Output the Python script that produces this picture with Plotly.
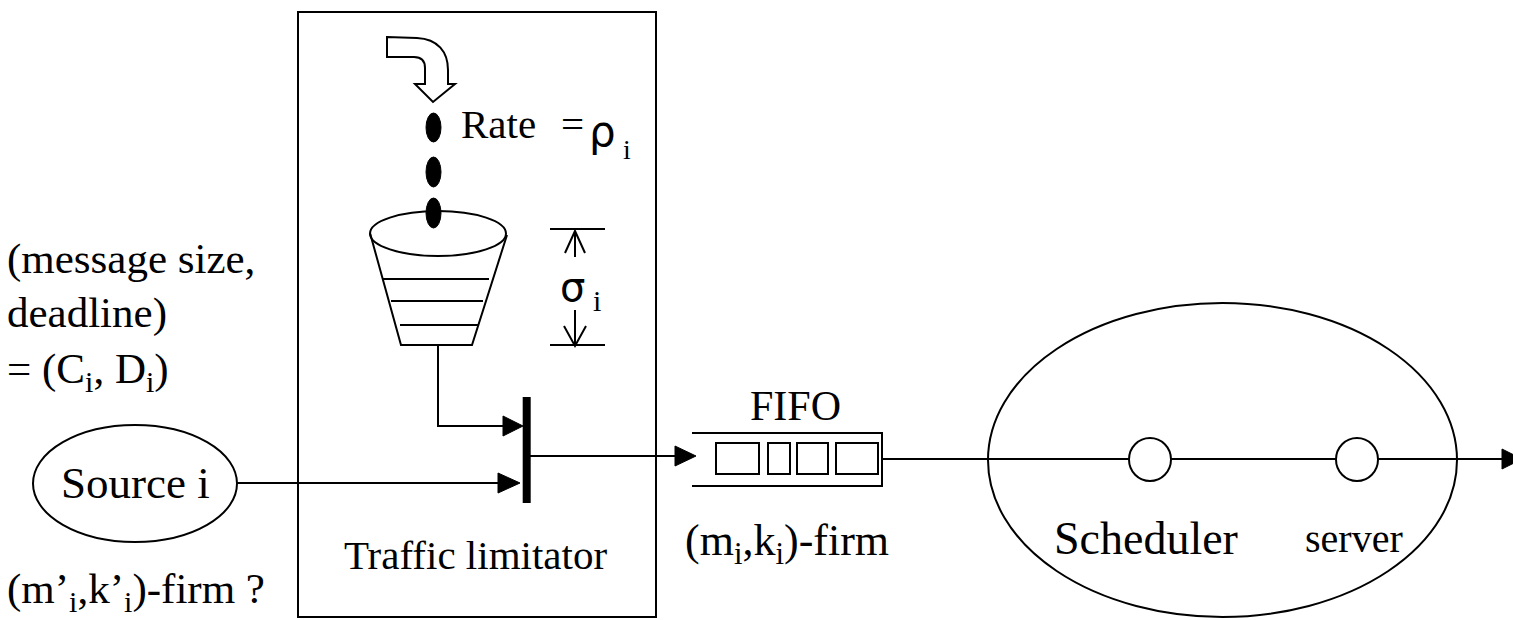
import plotly.graph_objects as go

# ---------------- texts (labels of the diagram) ----------------
left_labels = ["(message size,", "deadline)", "= (C<sub>i</sub>, D<sub>i</sub>)"]
source_label = "Source i"
source_firm_label = "(m\u2019<sub>i</sub>,k\u2019<sub>i</sub>)-firm ?"
limiter_label = "Traffic limitator"
rate_label = "Rate"
rate_symbol = "\u03c1"
sigma_symbol = "\u03c3"
sub_label = "i"
fifo_label = "FIFO"
fifo_firm_label = "(m<sub>i</sub>,k<sub>i</sub>)-firm"
sched_labels = ["Scheduler", "server"]

# ---------------- geometry (pixel frame of the picture) ----------------
W, H = 1513, 620
SERIF = "Liberation Serif"
SANS = "DejaVu Sans"
LW = 2

shapes = []
annots = []


def line(x0, y0, x1, y1, w=LW):
    shapes.append(dict(type="line", x0=x0, y0=y0, x1=x1, y1=y1,
                       line=dict(color="black", width=w)))


def path(d, fill=None, w=LW):
    s = dict(type="path", path=d, line=dict(color="black", width=w))
    if fill:
        s["fillcolor"] = fill
    shapes.append(s)


def rect(x0, y0, x1, y1, fill=None, w=LW):
    s = dict(type="rect", x0=x0, y0=y0, x1=x1, y1=y1,
             line=dict(color="black", width=w))
    if fill:
        s["fillcolor"] = fill
    shapes.append(s)


def ellipse(x0, y0, x1, y1, fill=None, w=LW):
    s = dict(type="circle", x0=x0, y0=y0, x1=x1, y1=y1,
             line=dict(color="black", width=w))
    if fill:
        s["fillcolor"] = fill
    shapes.append(s)


def head(xb, yc, xt, half=10):
    path(f"M {xb},{yc-half} L {xt},{yc} L {xb},{yc+half} Z", fill="black", w=1)


def text(t, x, y, size, xanchor="left", family=SERIF):
    annots.append(dict(text=t, x=x, y=y, xref="x", yref="y", showarrow=False,
                       xanchor=xanchor, yanchor="middle",
                       font=dict(family=family, size=size, color="black"),
                       borderpad=0))


# Traffic limitator box
rect(298, 12, 656, 617)

# curved (bent) open arrow
path("M 387,37 L 417,38 C 438,39 448,52 448,70 L 448,84 L 455,84 L 433,102 "
     "L 415,84 L 425,84 L 425,68 C 425,61 421,57 414,57 L 387,57 Z", fill="white")

# bucket
ellipse(370, 211, 506, 256)
path("M 370,233 L 401,345 L 472,345 L 507,235")
line(383, 279, 489, 279)
line(391, 301, 483, 301)
line(400, 325, 478, 325)

# drops
for y0, y1 in [(113, 142), (157, 187), (198, 228)]:
    ellipse(426, y0, 441, y1, fill="black", w=1)

# sigma dimension
line(550, 229, 605, 229)
line(550, 345, 605, 345)
line(575, 232, 575, 257)
path("M 565,253 L 575,231 L 585,253")
line(575, 310, 575, 344)
path("M 564,326 L 575,346 L 586,326")

# bucket output to merger
path("M 438,345 L 438,426 L 505,426")
head(503, 426, 523)

# source ellipse and line
ellipse(33, 425, 237, 542)
line(237, 483, 500, 483)
head(498, 483, 520)

# merger bar
rect(522.7, 397, 530.7, 503, fill="black", w=0)

# output to FIFO
line(530, 456, 677, 456)
head(675, 456, 696)

# FIFO queue
path("M 692,433 L 882,433 L 882,486 L 692,486")
for x0, x1 in [(716, 759), (768, 790), (797, 828), (836, 878)]:
    rect(x0, 443, x1, 474)

# scheduler ellipse and line
ellipse(988, 303, 1457, 617)
line(882, 459, 1504, 459)
head(1502, 459, 1522)
ellipse(1129, 438, 1171, 481, fill="white")
ellipse(1336, 438, 1378, 481, fill="white")

# ---------------- texts ----------------
text(left_labels[0], 6, 259, 43)
text(left_labels[1], 6, 313, 43)
text(left_labels[2], 6, 372, 43)
text(source_label, 135, 483, 45, xanchor="center")
text(source_firm_label, 6, 592, 43)
text(limiter_label, 475, 555, 41, xanchor="center")
text(rate_label, 460, 124, 41)
text("=", 572, 124, 41, xanchor="center")
text(rate_symbol, 602, 131, 42, xanchor="center", family=SANS)
text(sub_label, 627, 149, 28, xanchor="center")
text(sigma_symbol, 572, 287, 40, xanchor="center", family=SANS)
text(sub_label, 597, 300, 30, xanchor="center")
text(fifo_label, 795, 406, 42, xanchor="center")
text(fifo_firm_label, 684, 543, 44)
text(sched_labels[0], 1053, 538, 46)
text(sched_labels[1], 1304, 538, 40)

fig = go.Figure()
fig.add_trace(go.Scatter(x=[], y=[], mode="markers", showlegend=False))
fig.update_layout(
    width=W, height=H,
    margin=dict(l=0, r=0, t=0, b=0),
    paper_bgcolor="white", plot_bgcolor="white",
    xaxis=dict(range=[0, W], visible=False, fixedrange=True),
    yaxis=dict(range=[H, 0], visible=False, fixedrange=True),
    shapes=shapes, annotations=annots, showlegend=False,
)
fig.write_html(
    "out.html",
    config={"displayModeBar": False},
    post_script="document.body.style.margin='0';document.body.style.overflow='hidden';",
)
